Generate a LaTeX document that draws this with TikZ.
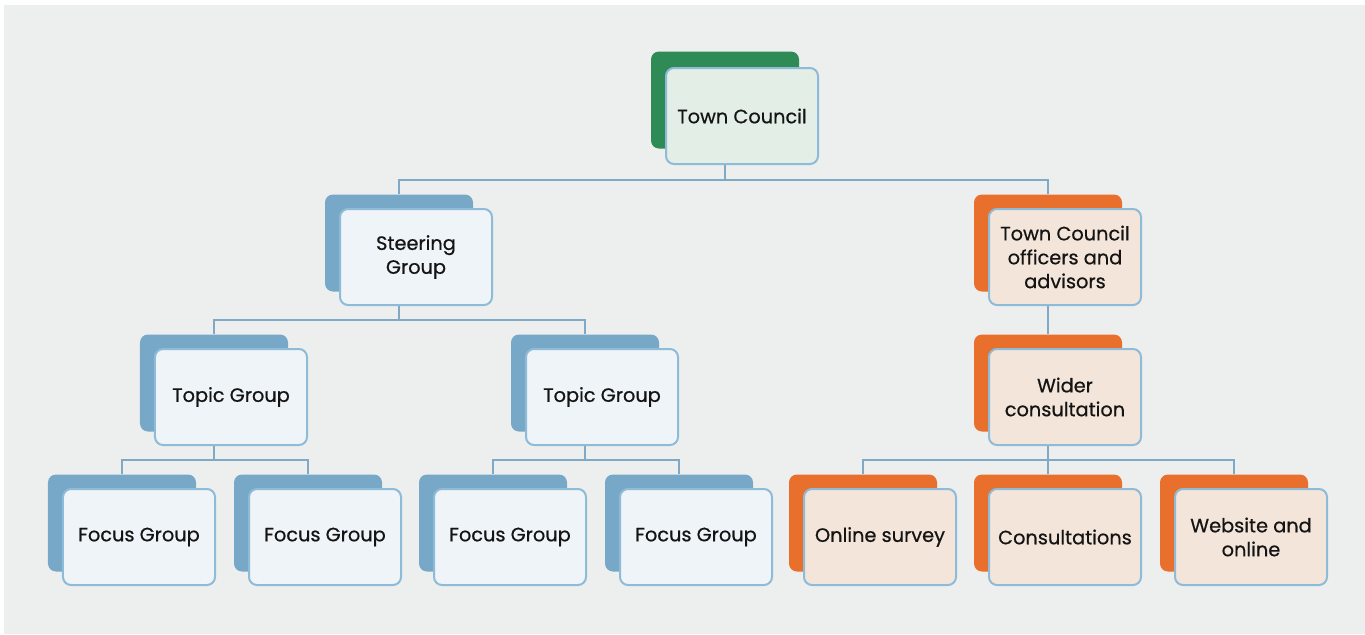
\documentclass[tikz,border=0pt]{standalone}
\usepackage{fontspec}
\setmainfont{Poppins}
\newfontfamily\boxfont{Poppins}[FakeBold=0.6]

\definecolor{bggrey}{HTML}{EDEFEE}
\definecolor{linkblue}{HTML}{7FA9C4}
\definecolor{edgeblue}{HTML}{8EBBD8}
\definecolor{backblue}{HTML}{78A8C7}
\definecolor{backgreen}{HTML}{2E8B55}
\definecolor{backorange}{HTML}{E86F2C}
\definecolor{faceblue}{HTML}{EEF4F7}
\definecolor{facegreen}{HTML}{E3EEE7}
\definecolor{faceorange}{HTML}{F4E5DA}

\begin{document}
\begin{tikzpicture}[x=0.2mm,y=-0.2mm,
	back/.style={rounded corners=1.6mm, minimum width=29.6mm, minimum height=19.4mm, inner sep=0pt},
	face/.style={draw=edgeblue, line width=0.4mm, rounded corners=1.6mm, minimum width=30.4mm,
		minimum height=19.2mm, inner sep=0pt, align=center,
		font=\boxfont\fontsize{11}{13.6}\selectfont, text=black!92},
	link/.style={draw=linkblue, line width=0.5mm}]

	% page and panel
	\fill[white] (0,0) rectangle (1365,634);
	\fill[bggrey] (4,5) rectangle (1365,634);

	% top
	\node[back, fill=backgreen] (tcb) at (725,100) {};
	\node[face, fill=facegreen] (tc) at (742,116) {Town Council};

	% second row
	\node[back, fill=backblue]   (sgb)  at (399,243) {};
	\node[face, fill=faceblue]   (sg)   at (416,257) {Steering\\Group};
	\node[back, fill=backorange] (tcob) at (1048,243) {};
	\node[face, fill=faceorange] (tco)  at (1065,257) {Town Council\\officers and\\advisors};

	% third row
	\node[back, fill=backblue]   (tgab) at (214,383) {};
	\node[face, fill=faceblue]   (tga)  at (231,397) {Topic Group};
	\node[back, fill=backblue]   (tgbb) at (585,383) {};
	\node[face, fill=faceblue]   (tgb)  at (602,397) {Topic Group};
	\node[back, fill=backorange] (wcb)  at (1048,383) {};
	\node[face, fill=faceorange] (wc)   at (1065,397) {Wider\\consultation};

	% bottom row
	\node[back, fill=backblue]   (fgab) at (122,523) {};
	\node[face, fill=faceblue]   (fga)  at (139,537) {Focus Group};
	\node[back, fill=backblue]   (fgbb) at (308,523) {};
	\node[face, fill=faceblue]   (fgb)  at (325,537) {Focus Group};
	\node[back, fill=backblue]   (fgcb) at (493,523) {};
	\node[face, fill=faceblue]   (fgc)  at (510,537) {Focus Group};
	\node[back, fill=backblue]   (fgdb) at (679,523) {};
	\node[face, fill=faceblue]   (fgd)  at (696,537) {Focus Group};
	\node[back, fill=backorange] (osb)  at (863,523) {};
	\node[face, fill=faceorange] (os)   at (880,537) {Online survey};
	\node[back, fill=backorange] (cob)  at (1048,523) {};
	\node[face, fill=faceorange] (co)   at (1065,537) {Consultations};
	\node[back, fill=backorange] (wob)  at (1234,523) {};
	\node[face, fill=faceorange] (wo)   at (1251,537) {Website and\\online};

	% bus levels
	\coordinate (busa) at (0,180);
	\coordinate (busb) at (0,320);
	\coordinate (busc) at (0,460);

	% connectors
	\draw[link] (tcb |- tc.south) -- (tcb |- busa) -| (sgb.north);
	\draw[link] (tcb |- tc.south) -- (tcb |- busa) -| (tcob.north);
	\draw[link] (sgb |- sg.south) -- (sgb |- busb) -| (tgab.north);
	\draw[link] (sgb |- sg.south) -- (sgb |- busb) -| (tgbb.north);
	\draw[link] (tcob |- tco.south) -- (wcb.north);
	\draw[link] (tgab |- tga.south) -- (tgab |- busc) -| (fgab.north);
	\draw[link] (tgab |- tga.south) -- (tgab |- busc) -| (fgbb.north);
	\draw[link] (tgbb |- tgb.south) -- (tgbb |- busc) -| (fgcb.north);
	\draw[link] (tgbb |- tgb.south) -- (tgbb |- busc) -| (fgdb.north);
	\draw[link] (wcb |- wc.south) -- (wcb |- busc) -| (osb.north);
	\draw[link] (wcb |- wc.south) -- (wcb |- busc) -| (cob.north);
	\draw[link] (wcb |- wc.south) -- (wcb |- busc) -| (wob.north);
\end{tikzpicture}
\end{document}
